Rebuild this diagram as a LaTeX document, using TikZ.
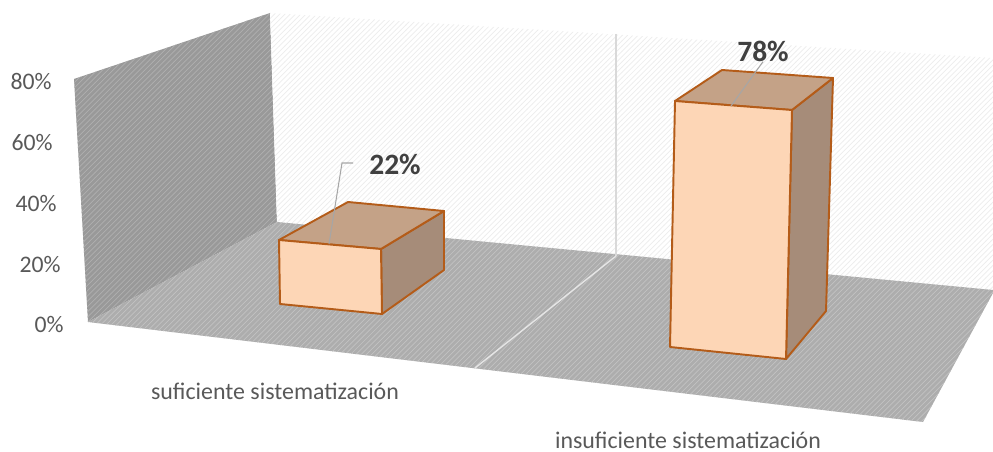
\documentclass[tikz,border=0pt]{standalone}
\usepackage{fontspec}
\setmainfont{Carlito}
\usetikzlibrary{patterns}
\definecolor{peach}{RGB}{253,214,182}
\definecolor{peachtop}{RGB}{196,162,135}
\definecolor{peachside}{RGB}{166,140,121}
\definecolor{barline}{RGB}{180,92,25}
\definecolor{axisgray}{RGB}{89,89,89}
\definecolor{lblgray}{RGB}{64,64,64}

\begin{document}
\begin{tikzpicture}[x=0.02cm, y=-0.02cm,
    wall/.style 2 args={fill=#1, postaction={pattern=north east lines, pattern color=#2}},
    barface/.style={fill=#1, draw=barline, line width=1.1pt, line join=round},
    leader/.style={draw=gray!70, line width=0.6pt},
    axislbl/.style={text=axisgray, font=\fontsize{13.5}{15}\selectfont, inner sep=0pt},
    catlbl/.style={text=axisgray, font=\fontsize{13.6}{16}\selectfont, inner sep=0pt},
    vallbl/.style={text=lblgray, font=\fontsize{16.8}{19}\bfseries, inner sep=0pt}]
      \useasboundingbox (0,0) rectangle (993,452);

      % walls and floor
      \path[wall={gray!80}{gray!62}] (74,79) -- (270,13) -- (277,222) -- (88,322) -- cycle;
      \path[wall={white}{gray!14}] (270,13) -- (993,58) -- (993,290) -- (277,222) -- cycle;
      \path[wall={gray!64}{gray!48}] (88,322) -- (277,222) -- (993,290) -- (993,293) -- (923,422) -- cycle;
      \draw[gray!30, line width=0.6pt] (616,34) -- (616,256);
      \draw[white!80!gray, line width=0.8pt] (616,256) -- (475,368);

      % axis labels
      \foreach \v/\x/\y in {0/64/325, 20/61/265, 40/57/204, 60/53/143, 80/52/82}
        \node[axislbl, anchor=east] (tick\v) at (\x,\y) {\v\%};

      % bar 1
      \path[barface=peachside] (381,249) -- (444,211) -- (444,270) -- (382,314) -- cycle;
      \path[barface=peachtop] (279,240) -- (348,202) -- (444,211) -- (381,249) -- cycle;
      \path[barface=peach] (279,240) -- (381,249) -- (382,314) -- (280,304) -- cycle;

      % bar 2
      \path[barface=peachside] (792,110) -- (833,78) -- (826,311) -- (786,359) -- cycle;
      \path[barface=peachtop] (675,101) -- (722,70) -- (833,78) -- (792,110) -- cycle;
      \path[barface=peach] (675,101) -- (792,110) -- (786,359) -- (670,347) -- cycle;

      % value labels
      \node[vallbl] (val22) at (395,164) {22\%};
      \node[vallbl] (val78) at (763,51) {78\%};
      \coordinate (top22) at (329,244);
      \coordinate (bend22) at (342,163);
      \coordinate (end22) at (353,163);
      \coordinate (top78) at (731,106);
      \draw[leader] (top22) -- (bend22) -- (end22);
      \draw[leader] (top78) -- (val78.south);

      % category labels
      \node[catlbl] (catsuf) at (275,391) {suficiente sistematización};
      \node[catlbl] (catinsuf) at (688,440) {insuficiente sistematización};
    \end{tikzpicture}
\end{document}
